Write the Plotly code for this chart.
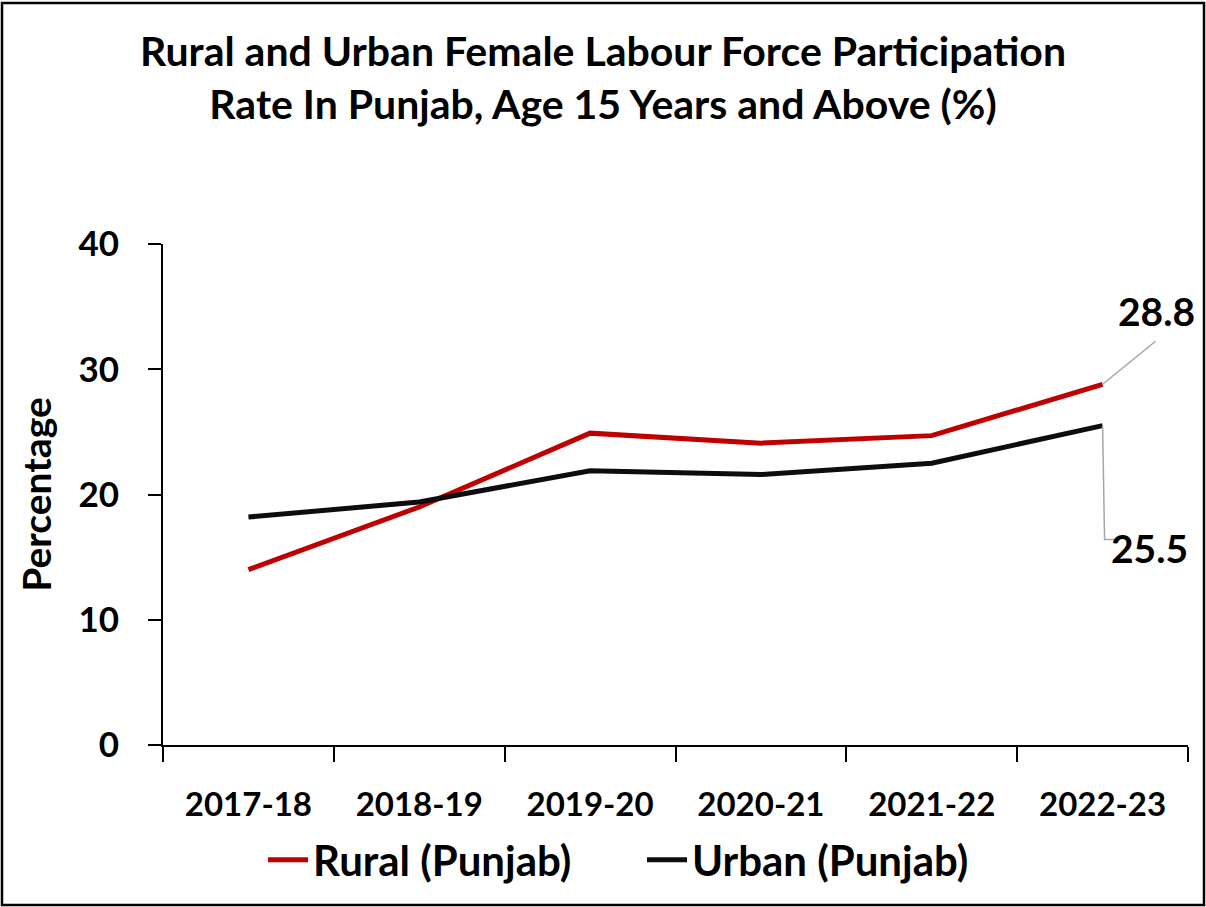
import plotly.graph_objects as go

years = ["2017-18", "2018-19", "2019-20", "2020-21", "2021-22", "2022-23"]
rural = [14.0, 19.0, 24.9, 24.1, 24.7, 28.8]
urban = [18.2, 19.4, 21.9, 21.6, 22.5, 25.5]
y_ticks = [0, 10, 20, 30, 40]

FONT = "Lato"
W, H = 1206, 907
L, R, T, B = 163, 18, 244, 162
pw, ph = W - L - R, H - T - B

fig = go.Figure()
fig.add_trace(go.Scatter(x=years, y=rural, mode="lines", name="Rural (Punjab)",
                         line=dict(color="#C00000", width=5)))
fig.add_trace(go.Scatter(x=years, y=urban, mode="lines", name="Urban (Punjab)",
                         line=dict(color="#0D0D0D", width=5)))

fig.update_layout(
    width=W, height=H,
    margin=dict(l=L, r=R, t=T, b=B),
    paper_bgcolor="white", plot_bgcolor="white",
    font=dict(family=FONT, color="black"),
    title=dict(text="<b>Rural and Urban Female Labour Force Participation<br>Rate In Punjab, Age 15 Years and Above (%)</b>",
               x=0.5, xanchor="center", y=1 - 66 / H, yanchor="middle",
               font=dict(size=41, family=FONT, color="black")),
    showlegend=True,
    legend=dict(orientation="h", x=(263 - L) / pw, xanchor="left", y=(745 - 860) / ph, yanchor="middle",
                font=dict(size=42, family=FONT, color="black"), itemwidth=40,
                entrywidth=324, entrywidthmode="pixels",
                bgcolor="rgba(0,0,0,0)"),
    xaxis=dict(showgrid=False, showline=True, linecolor="black", linewidth=2,
               range=[-0.5, len(years) - 0.5],
               ticks="outside", tickson="boundaries", ticklen=15, tickwidth=1.5, tickcolor="black",
               tickfont=dict(size=33, family=FONT, color="black"), ticklabelstandoff=29,
               zeroline=False),
    yaxis=dict(range=[0, 40], tickvals=y_ticks, showgrid=False, showline=True, linecolor="black",
               linewidth=2, ticks="outside", ticklen=13, tickwidth=1.5, tickcolor="black",
               tickfont=dict(size=35, family=FONT, color="black"), ticklabelstandoff=22,
               zeroline=False,
               title=dict(text="<b>Percentage</b>", font=dict(size=39, family=FONT, color="black"),
                          standoff=15)),
)

fig.update_layout(legend_font_weight="bold")
fig.update_xaxes(tickfont_weight="bold")
fig.update_yaxes(tickfont_weight="bold")

# data labels with leader lines
fig.add_annotation(x=years[-1], y=rural[-1], text="<b>28.8</b>", showarrow=False,
                   xshift=54, yshift=73, font=dict(size=39, family=FONT, color="black"))
fig.add_annotation(x=years[-1], y=urban[-1], text="<b>25.5</b>", showarrow=False,
                   xshift=47, yshift=-122, font=dict(size=39, family=FONT, color="black"))
fig.add_shape(type="path", xref="x", yref="y", xsizemode="pixel", ysizemode="pixel",
              xanchor=years[-1], yanchor=rural[-1], path="M 0 0 L 53 43",
              line=dict(color="#A6A6A6", width=1.5))
fig.add_shape(type="path", xref="x", yref="y", xsizemode="pixel", ysizemode="pixel",
              xanchor=years[-1], yanchor=urban[-1], path="M 0 0 L 2 -114 L 12 -114",
              line=dict(color="#A6A6A6", width=1.5))

# chart border
fig.add_shape(type="rect", xref="paper", yref="paper",
              x0=(2 - L) / pw, x1=(1204 - L) / pw,
              y0=(745 - 905) / ph, y1=(745 - 3) / ph,
              line=dict(color="black", width=2.5), fillcolor="rgba(0,0,0,0)", layer="below")

fig.write_html("out.html", config={"displayModeBar": False},
               post_script="document.body.style.margin='0';")
